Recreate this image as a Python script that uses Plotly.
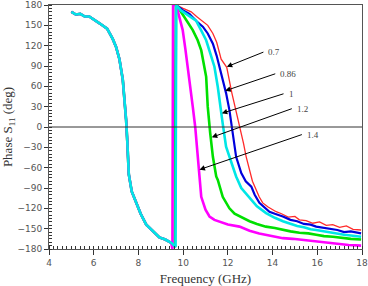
import plotly.graph_objects as go

# Common low-frequency branch (all curves overlap)
x_left = [5.0, 5.2, 5.4, 5.6, 5.8, 6.0, 6.26, 6.6, 6.85, 7.0, 7.15, 7.3, 7.38, 7.45, 7.5, 7.57, 7.7, 7.9, 8.1, 8.35, 8.6, 8.94, 9.2, 9.47]
y_left = [170, 166, 167, 163, 163, 159, 153, 145, 130, 118, 100, 70, 40, 10, -20, -70, -95, -112, -128, -144, -152, -163, -166, -171]

labels = ["0.7", "0.86", "1", "1.2", "1.4"]
colors = ["#ff2a2a", "#0000dd", "#00e6e6", "#00e000", "#ff00ff"]
widths = [1.3, 2.2, 2.6, 2.6, 2.6]

jump_x = [9.63, 9.63, 9.66, 9.63, 9.52]
jump_low = [-177, -177, -177, -177, -180]

x_red = [9.68, 10.0, 10.36, 10.6, 10.88, 11.1, 11.33, 11.5, 11.7, 11.95, 12.18, 12.4, 12.55, 12.7, 12.82, 12.97, 13.1, 13.27, 13.4, 13.56, 13.8, 14.16, 14.4, 14.7, 15.0, 15.2, 15.5, 15.8, 16.1, 16.4, 16.69, 17.0, 17.3, 17.6, 17.96]
y_red = [180, 175, 170, 163, 156, 150, 138, 125, 100, 88, 50, 20, 0, -24, -44, -63, -80, -93, -103, -112, -118, -125, -128, -133, -132, -137, -138, -142, -140, -145, -144, -148, -146, -151, -152]

x_blue = [9.68, 10.0, 10.28, 10.6, 10.88, 11.1, 11.33, 11.5, 11.62, 11.85, 11.92, 12.07, 12.22, 12.37, 12.6, 12.8, 13.05, 13.2, 13.41, 13.6, 13.86, 14.1, 14.46, 14.8, 15.1, 15.4, 15.7, 15.95, 16.3, 16.6, 16.9, 17.2, 17.5, 17.96]
y_blue = [180, 172, 167, 156, 148, 138, 123, 105, 89, 60, 50, 25, -9, -44, -68, -80, -88, -100, -112, -118, -125, -128, -132, -137, -139, -143, -144, -147, -149, -151, -152, -155, -154, -157]

x_cyan = [9.68, 9.9, 10.2, 10.58, 10.8, 11.03, 11.2, 11.4, 11.55, 11.62, 11.77, 11.92, 12.15, 12.37, 12.6, 12.97, 13.3, 13.71, 14.1, 14.46, 14.8, 15.1, 15.4, 15.7, 15.95, 16.3, 16.6, 16.9, 17.2, 17.5, 17.96]
y_cyan = [180, 172, 165, 157, 143, 128, 110, 89, 59, 40, 5, -29, -53, -73, -90, -105, -117, -127, -134, -139, -143, -146, -148, -151, -152, -154, -156, -157, -159, -160, -162]

x_green = [9.68, 9.9, 10.15, 10.43, 10.65, 10.81, 11.03, 11.1, 11.21, 11.33, 11.48, 11.55, 11.77, 12.07, 12.3, 12.67, 12.97, 13.3, 13.7, 14.1, 14.46, 14.8, 15.2, 15.6, 15.95, 16.3, 16.7, 17.1, 17.5, 17.96]
y_green = [180, 170, 158, 143, 128, 113, 74, 30, -9, -44, -73, -78, -103, -120, -128, -134, -139, -143, -147, -149, -152, -154, -156, -157, -159, -161, -162, -164, -165, -166]

x_mag = [9.69, 9.85, 9.98, 10.1, 10.21, 10.43, 10.54, 10.65, 10.73, 10.81, 11.0, 11.18, 11.4, 11.63, 12.0, 12.52, 12.97, 13.4, 13.9, 14.46, 14.9, 15.4, 15.95, 16.4, 16.9, 17.4, 17.96]
y_mag = [180, 160, 143, 115, 89, 30, 0, -44, -78, -103, -122, -132, -137, -140, -144, -147, -153, -157, -160, -164, -165, -167, -169, -171, -172, -174, -175]

series_right = [(x_red, y_red), (x_blue, y_blue), (x_cyan, y_cyan), (x_green, y_green), (x_mag, y_mag)]
order = [0, 1, 3, 4, 2]

fig = go.Figure()
for i in order:
    xr, yr = series_right[i]
    xs = x_left + [jump_x[i], jump_x[i], jump_x[i] + 0.03] + xr
    ys = y_left + [jump_low[i], jump_low[i], 180] + yr
    fig.add_trace(go.Scatter(x=xs, y=ys, mode="lines", name=labels[i],
                             line=dict(color=colors[i], width=widths[i]),
                             showlegend=False))

# annotation arrows
ann_head_x = [11.95, 11.88, 11.73, 11.28, 10.73]
ann_head_y = [88.8, 53.4, 20.2, -15.2, -62.9]
ann_tail_x = [13.59, 14.12, 14.49, 14.86, 15.31]
ann_tail_y = [110.5, 78.5, 49, 27, -11.2]

for k in range(5):
    fig.add_annotation(x=ann_head_x[k], y=ann_head_y[k], ax=ann_tail_x[k], ay=ann_tail_y[k],
                       xref="x", yref="y", axref="x", ayref="y", text=labels[k],
                       xanchor="left", yanchor="middle", borderpad=4,
                       showarrow=True, arrowhead=2, arrowsize=1.1, arrowwidth=1, arrowcolor="black",
                       standoff=0, startstandoff=0,
                       font=dict(family="Liberation Serif", size=9, color="#444"))

fig.add_shape(type="line", x0=4, x1=18, y0=0, y1=0, xref="x", yref="y",
              line=dict(color="#333", width=1))

fig.update_xaxes(range=[4, 18], tickvals=[4, 6, 8, 10, 12, 14, 16, 18],
                 ticks="outside", ticklen=5, tickcolor="#333", automargin=False,
                 minor=dict(dtick=0.2, ticks="inside", ticklen=3, tickcolor="#333"),
                 showgrid=False, zeroline=False, showline=True, linecolor="#555", linewidth=1,
                 mirror=True,
                 tickfont=dict(family="DejaVu Sans", size=9, color="#555"),
                 title=dict(text="Frequency (GHz)", standoff=14,
                            font=dict(family="Liberation Serif", size=13, color="#333")))
fig.update_yaxes(range=[-180, 180], tickvals=list(range(-180, 181, 30)),
                 ticks="outside", ticklen=4, tickcolor="#333", automargin=False,
                 minor=dict(dtick=5, ticks="inside", ticklen=3, tickcolor="#333"),
                 showgrid=False, zeroline=False, showline=True, linecolor="#555", linewidth=1,
                 mirror=True,
                 tickfont=dict(family="DejaVu Sans", size=9, color="#555"),
                 title=dict(text="Phase S<sub>11</sub> (deg)", standoff=2,
                            font=dict(family="Liberation Serif", size=13, color="#333")))

fig.update_layout(width=368, height=286, margin=dict(l=49, r=6, t=5, b=37),
                  plot_bgcolor="white", paper_bgcolor="white")

fig.write_html("out.html")
